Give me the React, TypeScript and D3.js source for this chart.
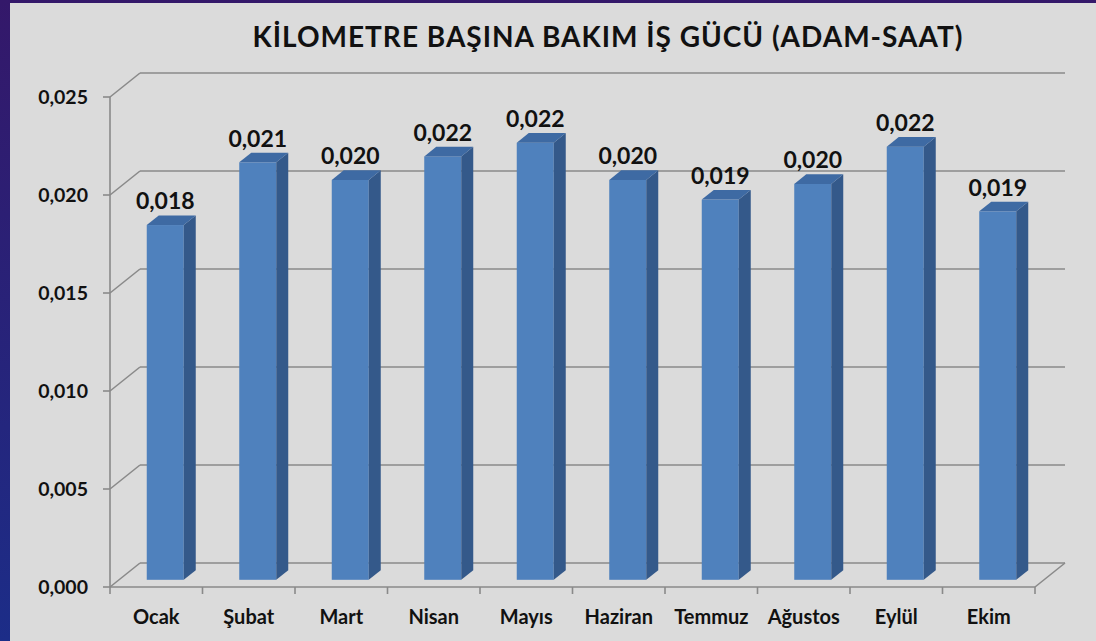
import * as d3 from "d3";

const months = ["Ocak", "Şubat", "Mart", "Nisan", "Mayıs", "Haziran", "Temmuz", "Ağustos", "Eylül", "Ekim"];
const values = [0.0181, 0.0213, 0.0204, 0.0216, 0.0223, 0.0204, 0.0194, 0.0202, 0.0221, 0.0188];
const yTicks = [0, 0.005, 0.01, 0.015, 0.02, 0.025];
const title = "KİLOMETRE BAŞINA BAKIM İŞ GÜCÜ (ADAM-SAAT)";

const W = 1096;
const H = 641;
const depth = { dx: 30, dy: -24 };
const font = "Lato, 'Open Sans', sans-serif";

function App() {
  const x = d3.scaleBand().domain(months).range([110, 1035]);
  const y = d3.scaleLinear().domain([0, 0.025]).range([587, 97]);
  const fmt = (v: number) => d3.format(".3f")(v).replace(".", ",");

  const bw = x.bandwidth() * 0.4;
  const front = 0.3; // bar front sits 30% into the depth
  const thick = 0.4; // bar depth as fraction of floor depth
  const fx = depth.dx * front;
  const fy = depth.dy * front;
  const sx = depth.dx * thick;
  const sy = depth.dy * thick;

  const x0 = x.range()[0];
  const x1 = x.range()[1];
  const grid = "#8a8a8a";

  return (
    <svg width={W} height={H} style={{ position: "fixed", left: 0, top: 0 }}>
      <defs>
        <linearGradient id="frame" x1="0" y1="0" x2="0" y2="1">
          <stop offset="0" stopColor="#34186a" />
          <stop offset="1" stopColor="#1c2d88" />
        </linearGradient>
      </defs>
      <rect width={W} height={H} fill="url(#frame)" />
      <rect x={10} y={3} width={W - 10} height={H - 3} fill="#dbdbdb" />

      <text x={608} y={47} textAnchor="middle" fontFamily={font} fontWeight="bold" fontSize={28} letterSpacing={1} fill="#111">
        {title}
      </text>

      {/* back wall gridlines and left wall diagonals */}
      {yTicks.map((t) => (
        <g key={t} stroke={grid} strokeWidth={1.6} fill="none">
          <line x1={x0 + depth.dx} x2={x1 + depth.dx} y1={y(t) + depth.dy} y2={y(t) + depth.dy} />
          <line x1={x0} x2={x0 + depth.dx} y1={y(t)} y2={y(t) + depth.dy} />
          <line x1={x0 - 7} x2={x0} y1={y(t)} y2={y(t)} />
        </g>
      ))}
      {/* y axis and floor */}
      <line x1={x0} x2={x0} y1={y(0.025)} y2={y(0) + 7} stroke={grid} strokeWidth={1.6} />
      <line x1={x0} x2={x1} y1={y(0)} y2={y(0)} stroke={grid} strokeWidth={1.6} />
      <line x1={x1} x2={x1 + depth.dx} y1={y(0)} y2={y(0) + depth.dy} stroke={grid} strokeWidth={1.6} />
      {months.map((m) => (
        <line key={m} x1={(x(m) ?? 0) + x.bandwidth()} x2={(x(m) ?? 0) + x.bandwidth()} y1={y(0)} y2={y(0) + 7} stroke={grid} strokeWidth={1.6} />
      ))}

      {yTicks.map((t) => (
        <text key={t} x={88} y={y(t) + 7} textAnchor="end" fontFamily={font} fontWeight="bold" fontSize={19.5} fill="#111">
          {fmt(t)}
        </text>
      ))}

      {months.map((m, i) => {
        const cx = (x(m) ?? 0) + x.bandwidth() / 2;
        const left = cx - bw / 2 + fx;
        const right = left + bw;
        const base = y(0) + fy;
        const top = y(values[i]) + fy;
        return (
          <g key={m}>
            <rect x={left} y={top} width={bw} height={base - top} fill="#4f81bd" />
            <path
              d={`M${right},${top}L${right + sx},${top + sy}L${right + sx},${base + sy}L${right},${base}Z`}
              fill="#34598a"
            />
            <path
              d={`M${left},${top}L${left + sx},${top + sy}L${right + sx},${top + sy}L${right},${top}Z`}
              fill="#3e6aa3"
            />
            <text x={cx + fx} y={top + sy - 6} textAnchor="middle" fontFamily={font} fontWeight="bold" fontSize={23} fill="#111">
              {fmt(values[i])}
            </text>
            <text x={cx} y={624} textAnchor="middle" fontFamily={font} fontWeight="bold" fontSize={20} fill="#111">
              {m}
            </text>
          </g>
        );
      })}
    </svg>
  );
}

export default App;
